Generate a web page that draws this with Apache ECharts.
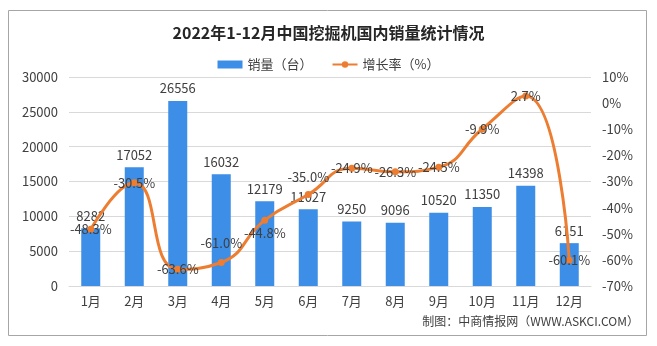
<!DOCTYPE html>
<html>
<head>
<meta charset="utf-8">
<script src="https://cdn.jsdelivr.net/npm/echarts@6/dist/echarts.min.js"></script>
<style>
html,body{margin:0;padding:0;background:#fff;}
#c{width:657px;height:346px;}
</style>
</head>
<body>
<div id="c"></div>
<script>
const categories = ['1月','2月','3月','4月','5月','6月','7月','8月','9月','10月','11月','12月'];
const salesValues = [8282, 17052, 26556, 16032, 12179, 11027, 9250, 9096, 10520, 11350, 14398, 6151];
const growthValues = [-48.3, -30.5, -63.6, -61.0, -44.8, -35.0, -24.9, -26.3, -24.5, -9.9, 2.7, -60.1];
const leftTicks = {min: 0, max: 30000, interval: 5000};
const rightTicks = {min: -70, max: 10, interval: 10};

const FONT = '"Noto Sans CJK SC", "Noto Sans", sans-serif';
const labelShift = {3: [0, -19], 4: [0, 13], 5: [0, -18]};

const chart = echarts.init(document.getElementById('c'));
chart.setOption({
  animation: false,
  backgroundColor: '#fff',
  textStyle: {fontFamily: FONT},
  title: {
    text: '2022年1-12月中国挖掘机国内销量统计情况',
    left: 'center', top: 20,
    textStyle: {fontSize: 16, fontWeight: 'bold', color: '#262626', fontFamily: FONT}
  },
  legend: {
    top: 53, left: 'center',
    itemGap: 19, itemWidth: 25, itemHeight: 8,
    textStyle: {fontSize: 13, color: '#404040', fontFamily: FONT},
    data: [
      {name: '销量（台）', icon: 'rect'},
      {name: '增长率（%）'}
    ]
  },
  grid: {left: 69, right: 66, top: 77, bottom: 60},
  xAxis: {
    type: 'category', data: categories,
    axisLine: {lineStyle: {color: '#d9d9d9'}},
    axisTick: {show: false},
    axisLabel: {fontSize: 13, color: '#404040', margin: 9, fontFamily: FONT}
  },
  yAxis: [
    {
      type: 'value', min: leftTicks.min, max: leftTicks.max, interval: leftTicks.interval,
      axisLine: {show: false}, axisTick: {show: false},
      axisLabel: {fontSize: 13, color: '#404040', margin: 11, fontFamily: FONT, formatter: v => String(v)},
      splitLine: {lineStyle: {color: '#d9d9d9'}}
    },
    {
      type: 'value', min: rightTicks.min, max: rightTicks.max, interval: rightTicks.interval,
      axisLine: {show: false}, axisTick: {show: false},
      axisLabel: {fontSize: 13, color: '#404040', margin: 11, formatter: '{value}%', fontFamily: FONT},
      splitLine: {show: false}
    }
  ],
  series: [
    {
      name: '销量（台）', type: 'bar', data: salesValues,
      barWidth: 19,
      itemStyle: {color: '#3C8EE6'},
      label: {show: true, position: 'top', distance: 6, fontSize: 13, color: '#404040', fontFamily: FONT}
    },
    {
      name: '增长率（%）', type: 'line', yAxisIndex: 1, smooth: 0.5,
      data: growthValues.map((v, i) => labelShift[i] ? {value: v, label: {offset: labelShift[i]}} : v),
      symbol: 'circle', symbolSize: 7,
      lineStyle: {color: '#ED7D31', width: 3},
      itemStyle: {color: '#ED7D31'},
      label: {show: true, position: 'inside', fontSize: 13, color: '#404040', fontFamily: FONT,
        formatter: p => Number(p.value).toFixed(1) + '%'}
    }
  ],
  graphic: [
    {type: 'rect', shape: {x: 8.5, y: 10.5, width: 638, height: 325}, style: {fill: null, stroke: '#a6a6a6', lineWidth: 1}, silent: true},
    {type: 'text', right: 18, top: 315, style: {text: '制图：中商情报网（WWW.ASKCI.COM）', font: '12px ' + FONT, fill: '#404040'}}
  ]
});
</script>
</body>
</html>
